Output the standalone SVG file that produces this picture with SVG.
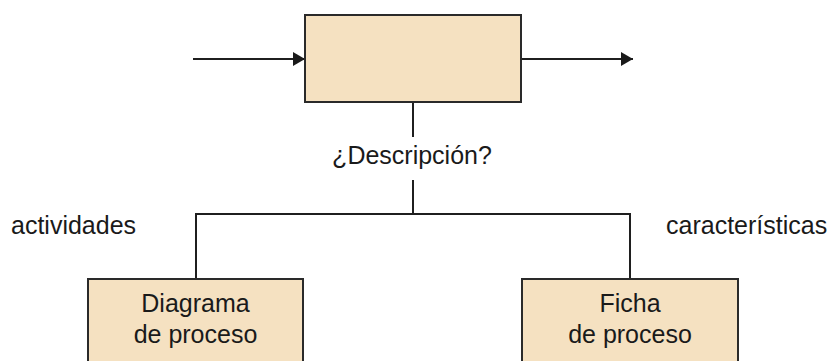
<svg xmlns="http://www.w3.org/2000/svg" width="836" height="361" viewBox="0 0 836 361">
<style>
.box{fill:#f5e1c1;stroke:#2a2a2a;stroke-width:2}
.ln{fill:none;stroke:#1f1f1f;stroke-width:2}
text{font-family:"Liberation Sans",Arial,sans-serif;font-size:25px;fill:#1a1a1a}
.c{text-anchor:middle}
</style>
<defs>
<marker id="ah" viewBox="0 0 12 14" refX="12" refY="7" markerWidth="12" markerHeight="14" markerUnits="userSpaceOnUse" orient="auto">
<path d="M0,0 L12,7 L0,14 Z" fill="#1a1a1a"/>
</marker>
</defs>
<rect width="836" height="361" fill="#ffffff"/>
<g id="connectors">
<line class="ln" x1="193" y1="59" x2="305" y2="59" marker-end="url(#ah)"/>
<line class="ln" x1="521" y1="59" x2="633" y2="59" marker-end="url(#ah)"/>
<line class="ln" x1="413" y1="102" x2="413" y2="137"/>
<line class="ln" x1="413" y1="180" x2="413" y2="214"/>
<polyline class="ln" points="196,279 196,214 630,214 630,279"/>
</g>
<g id="process">
<rect class="box" x="305" y="15" width="216" height="87"/>
</g>
<g id="description">
<text class="c" x="412" y="164">¿Descripción?</text>
</g>
<g id="label-actividades">
<text x="11" y="234">actividades</text>
</g>
<g id="label-caracteristicas">
<text x="666" y="234">características</text>
</g>
<g id="diagrama">
<rect class="box" x="88" y="279" width="215" height="95"/>
<text class="c" x="195.5" y="312">Diagrama</text>
<text class="c" x="195.5" y="343">de proceso</text>
</g>
<g id="ficha">
<rect class="box" x="522" y="279" width="216" height="95"/>
<text class="c" x="630" y="312">Ficha</text>
<text class="c" x="630" y="343">de proceso</text>
</g>
</svg>
